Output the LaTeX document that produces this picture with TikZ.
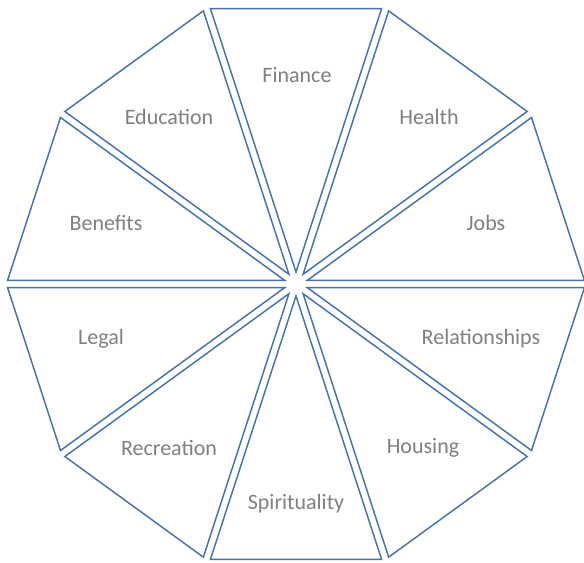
\documentclass[tikz,border=0pt]{standalone}
\usepackage{fontspec}
\setmainfont{Carlito}
\definecolor{wheelblue}{HTML}{4673A8}
\definecolor{labelgray}{HTML}{808080}
\begin{document}
\begin{tikzpicture}[x=0.75pt,y=0.75pt,
  sector/.style={draw=wheelblue,line width=1.1pt},
  every node/.style={font=\fontsize{16.5}{20}\selectfont,text=labelgray}]
\useasboundingbox (0,0) rectangle (584,562);
\coordinate (c) at (296,278);
% ten separate triangles, each pushed out along its bisector
\begin{scope}[shift={(c)}]
\foreach \i in {0,...,9}{
  \pgfmathsetmacro{\a}{18+36*\i}
  \draw[sector,shift={(\a:12)}] (0,0) -- (\a-18:277) -- (\a+18:277) -- cycle;
}
\end{scope}
\node (finance) at (297,487) {Finance};
\node (health) at (429,445) {Health};
\node (jobs) at (486,339) {Jobs};
\node (relationships) at (481,223) {Relationships};
\node (housing) at (423,114) {Housing};
\node (spirituality) at (296,58) {Spirituality};
\node (recreation) at (169,114) {Recreation};
\node (legal) at (101,223) {Legal};
\node (benefits) at (106,339) {Benefits};
\node (education) at (169,445) {Education};
\end{tikzpicture}
\end{document}
